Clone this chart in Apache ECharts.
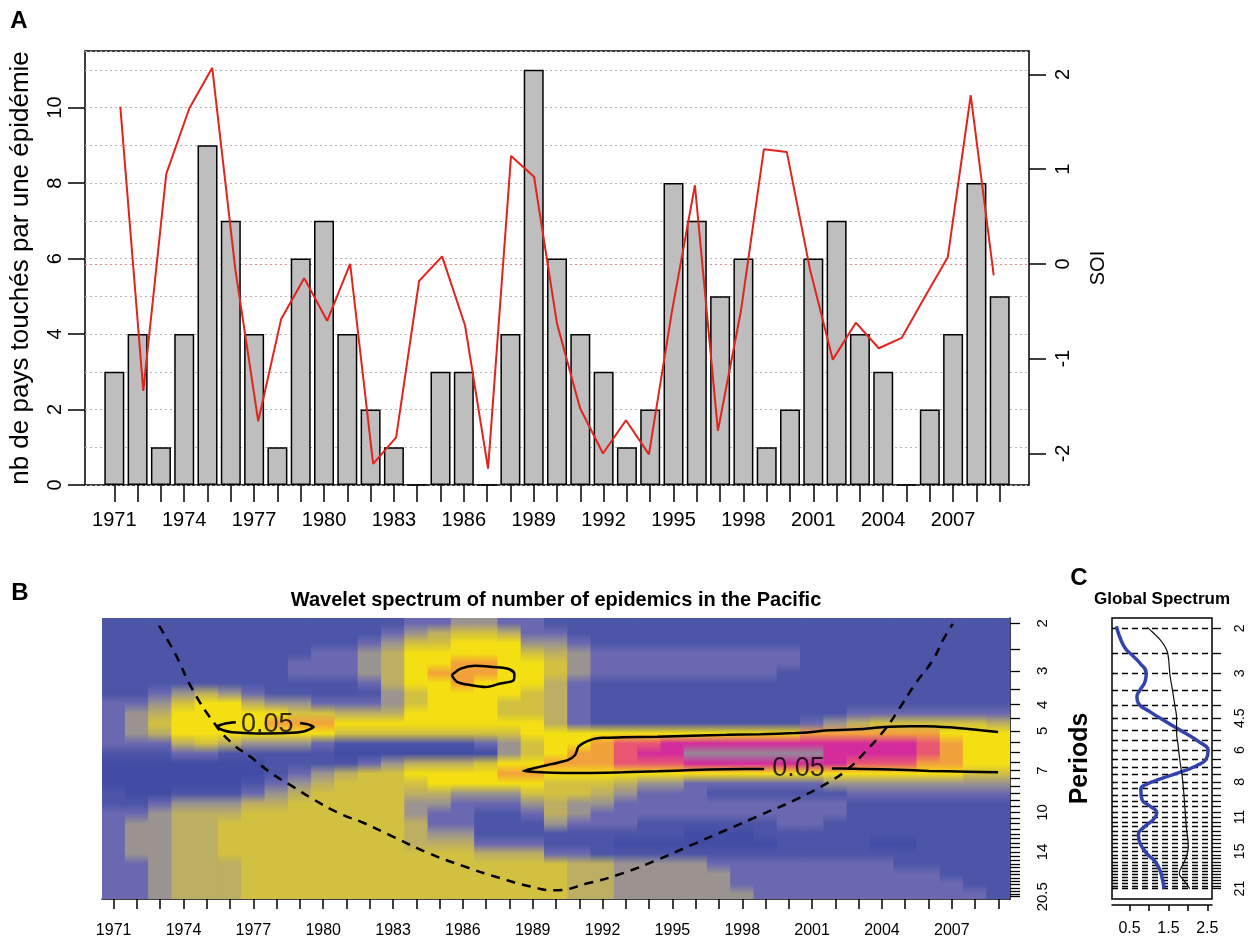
<!DOCTYPE html>
<html><head><meta charset="utf-8">
<script src="https://cdn.jsdelivr.net/npm/echarts@6/dist/echarts.min.js"></script>
<style>html,body{margin:0;padding:0;background:#fff}#c{width:1259px;height:941px}</style>
</head><body><div id="c"></div>
<script>
// ---------- Panel A data ----------
const years = [1971,1972,1973,1974,1975,1976,1977,1978,1979,1980,1981,1982,1983,1984,1985,1986,1987,1988,1989,1990,
  1991,1992,1993,1994,1995,1996,1997,1998,1999,2000,2001,2002,2003,2004,2005,2006,2007,2008,2009];
const counts = [3,4,1,4,9,7,4,1,6,7,4,2,1,0,3,3,0,4,11,6,4,3,1,2,8,7,5,6,1,2,6,7,4,3,0,2,4,8,5];
const soi = [1.66,-1.34,0.95,1.64,2.07,-0.05,-1.66,-0.58,-0.15,-0.6,0.0,-2.11,-1.83,-0.18,0.08,-0.65,-2.16,1.14,0.92,-0.63,
  -1.52,-2.0,-1.65,-2.01,-0.5,0.83,-1.76,-0.5,1.21,1.18,-0.05,-1.01,-0.62,-0.89,-0.78,-0.35,0.07,1.78,-0.12];
const yearLabels = [1971,1974,1977,1980,1983,1986,1989,1992,1995,1998,2001,2004,2007];
const countTicks = [0,2,4,6,8,10];
const soiTicks = [-2,-1,0,1,2];

// ---------- Panel B data (wavelet power levels 0..10, 'A' = 10), rows = periods, columns = years 1971..2009 ----------
const periodRows = [2.0,2.17,2.37,2.58,2.81,3.06,3.33,3.63,3.95,4.31,4.69,5.11,5.56,6.06,6.6,7.19,7.83,8.53,9.29,10.12,11.02,12.0,13.07,14.24,15.51,16.89,18.4,20.04];
const powerRows = [
  '111111111111'+'122332211'+'111111111'+'111111111',
  '111111111111'+'234554221'+'111111111'+'111111111',
  '111111111112'+'355666332'+'111111111'+'111111111',
  '111111111223'+'466666543'+'222222222'+'111111111',
  '111111112223'+'466776653'+'222222222'+'111111111',
  '111111112223'+'467776653'+'222222221'+'111111111',
  '111111111112'+'466766642'+'111111111'+'111111111',
  '112343211111'+'356666542'+'111111111'+'111111111',
  '223566433222'+'356665542'+'111111111'+'111111111',
  '234666665544'+'466665542'+'111111111'+'112222222',
  '235666677766'+'666666642'+'111111111'+'234555554',
  '234666666655'+'555555666'+'666666666'+'777777666',
  '222454333211'+'111123566'+'788999999'+'999998766',
  '111221111100'+'000003567'+'7899AAAAA'+'A99998766',
  '000000011112'+'344456677'+'788899999'+'998887766',
  '000000012345'+'566667766'+'666666666'+'666666655',
  '000000123455'+'556666655'+'543322222'+'233333333',
  '100111234555'+'544333555'+'432221111'+'112222222',
  '112333445555'+'533222343'+'322222222'+'221111111',
  '223444555555'+'532211243'+'222222222'+'221111111',
  '233445555555'+'542211132'+'221111112'+'211111111',
  '233445555555'+'543311111'+'111100011'+'111111111',
  '233445555555'+'544422211'+'100000001'+'111001111',
  '233445555555'+'555544422'+'111111111'+'111111111',
  '223444555555'+'555555554'+'433332222'+'222211111',
  '223444555555'+'555555554'+'433333222'+'222222111',
  '223444555555'+'555555554'+'433333222'+'222222211',
  '223444555555'+'555555554'+'433333322'+'222222221'
];
const contourSmall = [[1985.52,3.11],[1985.91,2.94],[1986.52,2.87],[1987.29,2.9],[1987.9,2.94],[1988.21,3.07],[1988.18,3.25],[1987.6,3.34],[1986.98,3.44],[1986.37,3.39],[1985.75,3.29],[1985.52,3.11]];
const contourLeft = [[1976.25,4.64],[1975.79,4.69],[1975.43,4.83],[1975.71,4.97],[1976.09,5.06],[1977.17,5.11],[1978.39,5.09],[1979.16,5.02],[1979.59,4.83],[1979.31,4.72],[1979.01,4.67]];
const contourBigA = [[1998.94,6.91],[1997.32,6.93],[1995.84,6.97],[1994.36,7.05],[1992.88,7.11],[1991.41,7.15],[1990.37,7.15],[1989.34,7.11],[1988.6,7.03],
  [1989.04,6.87],[1989.64,6.68],[1990.08,6.55],[1990.52,6.4],[1990.82,6.14],[1990.96,5.72],[1991.19,5.53],[1991.56,5.37],[1992.0,5.3],[1992.88,5.28],
  [1994.36,5.25],[1995.84,5.21],[1997.32,5.17],[1998.79,5.14],[2000.27,5.09],[2001.01,5.04],[2001.75,4.97],[2003.22,4.92],[2004.11,4.83],[2004.7,4.81],
  [2005.88,4.8],[2006.92,4.85],[2007.95,4.94],[2008.99,5.04]];
const contourBigB = [[2001.85,6.89],[2002.34,6.89],[2003.22,6.91],[2004.7,6.95],[2006.03,7.03],[2007.66,7.07],[2008.99,7.11]];
const contourLabels = [[1977.6,4.72,0.05],[2000.42,6.91,0.05]];
const coi = [[1972.95,2.04],[1973.64,2.59],[1974.4,3.53],[1975.33,4.69],[1976.09,5.56],[1976.86,6.22],[1977.78,7.17],[1978.7,8.03],[1979.62,8.99],
  [1980.69,10.07],[1981.77,10.97],[1982.99,12.28],[1984.53,14.15],[1986.06,15.84],[1987.6,17.5],[1988.9,18.78],[1989.9,19.42],[1991.41,18.25],
  [1992.88,16.77],[1994.36,14.97],[1995.84,13.18],[1997.32,11.61],[1998.79,10.22],[2000.27,8.99],[2001.75,7.7],[2002.49,6.97],[2003.22,6.05],
  [2004.11,4.96],[2004.7,4.19],[2005.44,3.34],[2006.18,2.74],[2006.62,2.31],[2007.04,2.01]];
const periodTicksB = [2,2.5,3,3.5,4,4.5,5,5.5,6,6.5,7,7.5,8,8.5,9,9.5,10,10.5,11,11.5,12,12.5,13,13.5,14,14.5,15,15.5,16,16.5,17,17.5,18,18.5,19,19.5,20,20.5];
const periodLabelsB = [2,3,4,5,7,10,14,20.5];

// ---------- Panel C data ----------
const periodTicksC = [2,2.5,3,3.5,4,4.5,5,5.5,6,6.5,7,7.5,8,8.5,9,9.5,10,10.5,11,11.5,12,12.5,13,13.5,14,14.5,15,15.5,16,16.5,17,17.5,18,18.5,19,19.5,20,20.5,21];
const periodLabelsC = [2,3,4.5,6,8,11,15,21];
const specTicks = [0.5,1,1.5,2,2.5];
const specLabels = [0.5,1.5,2.5];
const globalPower = [[0.16,1.96],[0.26,2.18],[0.39,2.39],[0.56,2.54],[0.77,2.74],[0.93,3.0],[0.9,3.23],[0.77,3.49],[0.69,3.71],[0.73,3.94],
  [1.03,4.25],[1.45,4.66],[1.88,5.1],[2.3,5.59],[2.52,6.03],[2.47,6.51],[2.22,6.92],[1.79,7.35],[1.28,7.81],[0.94,8.18],[0.79,8.56],
  [0.82,9.38],[1.03,9.97],[1.2,10.59],[1.11,11.25],[0.9,11.96],[0.73,12.9],[0.77,13.93],[0.94,15.26],[1.16,16.46],[1.28,17.76],[1.35,19.46],[1.39,20.99]];
const globalSignif = [[0.96,1.98],[1.11,2.08],[1.28,2.21],[1.45,2.42],[1.5,2.61],[1.54,3.04],[1.61,3.54],[1.67,4.06],[1.71,4.52],[1.71,5.11],
  [1.75,5.77],[1.79,6.51],[1.84,7.36],[1.88,8.31],[1.92,9.98],[1.96,11.98],[2.01,14.38],[1.96,15.76],[1.84,17.26],[1.78,18.33],[1.86,19.19],[1.96,20.08],[2.05,21.02]];

// ---------- build ----------
const FONT = "'Liberation Sans', Arial, Helvetica, sans-serif";
const heatColors = ['#424ca4','#4c55a8','#6a68b0','#9a9390','#bcae62','#d2c040','#f4df12','#f2a23c','#e85872','#d42c9c','#948898'];
const nRows = powerRows.length;
const level = ch => (ch === 'A' ? 10 : Number(ch));
// one record per year column: [columnIndex, level(row0), level(row1), ...]
const columnData = years.map((y, ci) => [ci].concat(powerRows.map(r => level(r[ci]))));
const colDims = ['col'].concat(periodRows.map((p, i) => 'r' + i));

function renderColumn(params, api) {
  const ci = api.value(0);
  const p0 = api.coord([ci, 0]);
  const pN = api.coord([ci, nRows - 1]);
  const sz = api.size([1, 1]);
  const w = sz[0], h = sz[1];
  const yTop = Math.min(p0[1], pN[1]) - h / 2;
  const H = Math.abs(pN[1] - p0[1]) + h;
  const stops = [];
  for (let r = 0; r < nRows; r++) {
    stops.push({offset: (r + 0.5) / nRows, color: heatColors[api.value(r + 1)]});
  }
  stops.unshift({offset: 0, color: stops[0].color});
  stops.push({offset: 1, color: stops[stops.length - 1].color});
  return {type: 'rect', shape: {x: p0[0] - w / 2 - 0.4, y: yTop, width: w + 0.8, height: H},
          style: {fill: new echarts.graphic.LinearGradient(0, 0, 0, 1, stops)}};
}

const blackTick = {color:'#000', width:1.5};
const fmt = v => String(v);
const contourStyle = {color:'#000', width:2.5};

const chart = echarts.init(document.getElementById('c'));
chart.setOption({
  animation: false,
  textStyle: {fontFamily: FONT},
  grid: [
    {left:85, top:51, width:944, height:434, show:true, borderColor:'#000', borderWidth:1.5, backgroundColor:'transparent'},
    {left:102, top:618, width:908, height:281},
    {left:1112, top:618, width:100, height:281, show:true, borderColor:'#000', borderWidth:1.5, backgroundColor:'transparent'}
  ],
  xAxis: [
    {gridIndex:0, type:'value', min:1969.742, max:2010.257, position:'bottom',
     axisLine:{show:false}, splitLine:{show:false},
     axisTick:{show:true, customValues:years, length:17, lineStyle:blackTick},
     axisLabel:{customValues:yearLabels, formatter:fmt, fontSize:20, color:'#000', margin:25}},
    {gridIndex:0, type:'value', min:1969.464, max:2010.535, position:'top', show:false},
    {gridIndex:1, type:'category', data:years.map(String), boundaryGap:true, position:'bottom',
     axisLine:{show:true, lineStyle:blackTick},
     axisTick:{show:true, alignWithLabel:true, interval:0, length:10, lineStyle:blackTick},
     axisLabel:{interval:2, fontSize:16, color:'#000', margin:24}, splitLine:{show:false}},
    {gridIndex:1, type:'value', min:1970.5, max:2009.5, position:'top', show:false},
    {gridIndex:2, type:'value', min:0.05, max:2.62, position:'bottom', offset:6,
     axisLine:{show:true, lineStyle:blackTick},
     axisTick:{show:true, customValues:specTicks, length:6, lineStyle:blackTick},
     axisLabel:{customValues:specLabels, formatter:fmt, fontSize:16, color:'#000', margin:16}, splitLine:{show:false}}
  ],
  yAxis: [
    {gridIndex:0, type:'value', min:0, max:11.5, position:'left', axisLine:{show:false}, splitLine:{show:false},
     axisTick:{show:true, customValues:countTicks, length:17, lineStyle:blackTick},
     axisLabel:{customValues:countTicks, formatter:fmt, rotate:90, fontSize:20, color:'#000', margin:20},
     name:'nb de pays touchés par une épidémie', nameLocation:'middle', nameGap:51,
     nameTextStyle:{fontSize:26, color:'#000'}},
    {gridIndex:0, type:'value', min:-2.333, max:2.247, position:'right', axisLine:{show:false}, splitLine:{show:false},
     axisTick:{show:true, customValues:soiTicks, length:17, lineStyle:blackTick},
     axisLabel:{customValues:soiTicks, formatter:fmt, rotate:90, fontSize:20, color:'#000', margin:24},
     name:'SOI', nameLocation:'middle', nameGap:59, nameTextStyle:{fontSize:20, color:'#000'}},
    {gridIndex:0, type:'value', min:0, max:11.5, interval:1, position:'left',
     axisLine:{show:false}, axisTick:{show:false}, axisLabel:{show:false},
     splitLine:{show:true, lineStyle:{color:'#b5b5b5', type:[2,3], width:1.2}}},
    {gridIndex:1, type:'category', data:periodRows.map(String), inverse:true, show:false},
    {gridIndex:1, type:'log', min:1.912, max:20.9, inverse:true, position:'right',
     axisLine:{show:true, lineStyle:blackTick}, splitLine:{show:false},
     axisTick:{show:true, customValues:periodTicksB, length:10, lineStyle:{color:'#000', width:1.3}},
     axisLabel:{customValues:periodLabelsB, formatter:fmt, rotate:90, fontSize:15, color:'#000', margin:25}},
    {gridIndex:2, type:'log', min:1.82, max:23.07, inverse:true, position:'right',
     axisLine:{show:false},
     axisTick:{show:true, customValues:periodTicksC, length:9, lineStyle:{color:'#000', width:1.3}},
     axisLabel:{customValues:periodLabelsC, formatter:fmt, rotate:90, fontSize:14, color:'#000', margin:21},
     splitLine:{show:true, lineStyle:{color:'#000', type:[6,4], width:1.3}}},
    {gridIndex:2, type:'log', min:1.82, max:23.07, inverse:true, position:'left',
     axisLine:{show:false}, axisTick:{show:false}, axisLabel:{show:false}, splitLine:{show:false},
     name:'Periods', nameLocation:'middle', nameGap:19,
     nameTextStyle:{fontSize:25, fontWeight:'bold', color:'#000'}}
  ],
  series: [
    {type:'bar', xAxisIndex:0, yAxisIndex:0, data:years.map((y,i)=>[y,counts[i]]), barWidth:20,
     itemStyle:{color:'#bebebe', borderColor:'#000', borderWidth:1.5}, z:2, silent:true},
    {type:'line', xAxisIndex:1, yAxisIndex:1, data:years.map((y,i)=>[y,soi[i]]), symbol:'none',
     lineStyle:{color:'#e3241d', width:2}, z:4, silent:true,
     markLine:{silent:true, symbol:'none', z:1, label:{show:false},
       lineStyle:{color:'#ec8a8a', type:[2,3], width:1.2}, data:[{yAxis:0}]}},
    {type:'custom', xAxisIndex:2, yAxisIndex:3, data:columnData, dimensions:colDims,
     encode:{x:'col', y:'r0'}, renderItem:renderColumn, z:1, silent:true, clip:true},
    {type:'line', xAxisIndex:3, yAxisIndex:4, data:contourSmall, symbol:'none', smooth:0.3, lineStyle:contourStyle, z:5, silent:true},
    {type:'line', xAxisIndex:3, yAxisIndex:4, data:contourLeft, symbol:'none', smooth:0.2, lineStyle:contourStyle, z:5, silent:true},
    {type:'line', xAxisIndex:3, yAxisIndex:4, data:contourBigA, symbol:'none', smooth:0.2, lineStyle:contourStyle, z:5, silent:true},
    {type:'line', xAxisIndex:3, yAxisIndex:4, data:contourBigB, symbol:'none', smooth:0.2, lineStyle:contourStyle, z:5, silent:true},
    {type:'line', xAxisIndex:3, yAxisIndex:4, data:coi, symbol:'none', smooth:true,
     lineStyle:{color:'#000', width:2.5, type:[9,7]}, z:5, silent:true},
    {type:'scatter', xAxisIndex:3, yAxisIndex:4, data:contourLabels, symbolSize:1,
     itemStyle:{color:'rgba(0,0,0,0)'}, z:6, silent:true,
     label:{show:true, position:'inside', formatter:p => p.value[2].toFixed(2), fontSize:27, color:'#000'}},
    {type:'line', xAxisIndex:4, yAxisIndex:5, data:globalPower, symbol:'none', smooth:true,
     lineStyle:{color:'#3343ad', width:3.5}, z:5, silent:true},
    {type:'line', xAxisIndex:4, yAxisIndex:5, data:globalSignif, symbol:'none', smooth:true,
     lineStyle:{color:'#111', width:1.2}, z:5, silent:true}
  ],
  graphic: [
    {type:'text', x:19, y:21, style:{text:'A', font:'bold 24px '+FONT, fill:'#000', align:'center', verticalAlign:'middle'}},
    {type:'text', x:20, y:593, style:{text:'B', font:'bold 24px '+FONT, fill:'#000', align:'center', verticalAlign:'middle'}},
    {type:'text', x:1079, y:578, style:{text:'C', font:'bold 24px '+FONT, fill:'#000', align:'center', verticalAlign:'middle'}},
    {type:'text', x:556, y:600, style:{text:'Wavelet spectrum of number of epidemics in the Pacific', font:'bold 20px '+FONT, fill:'#000', align:'center', verticalAlign:'middle'}},
    {type:'text', x:1162, y:599, style:{text:'Global Spectrum', font:'bold 17px '+FONT, fill:'#000', align:'center', verticalAlign:'middle'}}
  ]
});
</script></body></html>
